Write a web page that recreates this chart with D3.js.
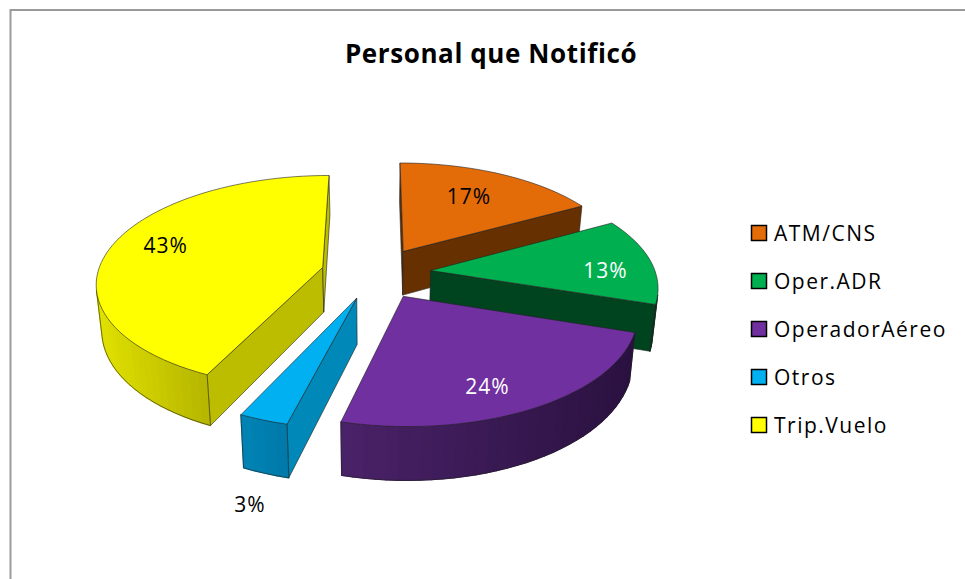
<!DOCTYPE html>
<html><head><meta charset="utf-8">
<script src="https://cdn.jsdelivr.net/npm/d3@7"></script>
<style>html,body{margin:0;padding:0;background:#fff}svg{display:block}text{font-family:"Open Sans",sans-serif}</style>
</head><body><svg id="c" width="965" height="579"></svg>
<script>
const categories = ["ATM/CNS","Oper.ADR","OperadorAéreo","Otros","Trip.Vuelo"];
const values = [17,13,24,3,43];
const tickLabels = ["17%","13%","24%","3%","43%"];
const title = "Personal que Notificó";
const topColors = ["#e36c09","#00b050","#7030a0","#00b0f0","#ffff00"];
const wallLight = ["#693306","#00451f","#4a2268","#0084b5","#e2e200"];
const wallDark  = ["#5f2e05","#003e1c","#2a1140","#0078a8","#b4b400"];
const radialWall= ["#663000","#00431f","#2a1140","#0088b8","#bdbd00"];
const labelColors = ["#000","#fff","#fff","#000","#000"];
const labelRadius = [0.675,0.78,0.79,1.50,0.76];
const labelShiftDeg = [-1,5.4,5.3,-6.3,3.7];

const cfg = {cx:376, cy:273, R:225, explode:55, k:0.0006, tilt:0.47, h:45, shrink:0.02};
const svg = d3.select("#c");
svg.append("path").attr("d","M10.5,579V10H965").attr("fill","none").attr("stroke","#9a9a9a").attr("stroke-width",2);
svg.append("text").attr("x",491).attr("y",63).attr("text-anchor","middle").attr("font-size",26).attr("font-weight",700).attr("letter-spacing","0.6px").attr("fill","#000").text(title);

function project(X,Y,Z){
  const s = 1/(1 - cfg.k*Y);
  return [cfg.cx + X*s*(1 - cfg.shrink*Z), cfg.cy + (cfg.tilt*Y + cfg.h*Z)*s];
}
const pie = d3.pie().sort(null).value(d=>d);
const arcs = pie(values);
const line = d3.line();

function ground(d,a,r){
  const mid=(d.startAngle+d.endAngle)/2;
  return [cfg.explode*Math.sin(mid)+r*Math.sin(a), -cfg.explode*Math.cos(mid)-r*Math.cos(a)];
}
const order=[0,4,1,3,2];
order.forEach(i=>{
  const d=arcs[i], g=svg.append("g");
  const n=Math.max(4,Math.round((d.endAngle-d.startAngle)/(2.5*Math.PI/180)));
  const angles=d3.range(n+1).map(j=>d.startAngle+(d.endAngle-d.startAngle)*j/n);
  const apex=ground(d,0,0);
  const rim=angles.map(a=>ground(d,a,cfg.R));
  const perim=[apex,...rim];
  const facets=[];
  perim.forEach((A,j)=>{
    const B=perim[(j+1)%perim.length];
    const q=[project(A[0],A[1],0),project(B[0],B[1],0),project(B[0],B[1],1),project(A[0],A[1],1)];
    const radial=(j===0||j===perim.length-1);
    if(d3.polygonArea(q)>0) facets.push({q,radial});
  });
  const rimF=facets.filter(f=>!f.radial);
  const xs=rimF.flatMap(f=>f.q.map(p=>p[0]));
  const col=d3.scaleLinear().domain(xs.length?d3.extent(xs):[0,1]).range([wallLight[i],wallDark[i]]).interpolate(d3.interpolateRgb);
  facets.forEach(f=>{
    const c=f.radial?radialWall[i]:col(d3.mean(f.q,p=>p[0]));
    g.append("path").attr("d",line(f.q)+"Z").attr("fill",c).attr("stroke",f.radial?"#222":c)
      .attr("stroke-width",f.radial?0.6:1.2).attr("stroke-linejoin","round");
  });
  if(rimF.length){
    const bottom=[...rimF.map(f=>f.q[3]),rimF[rimF.length-1].q[2]];
    g.append("path").attr("d",line(bottom)).attr("fill","none").attr("stroke","#222").attr("stroke-width",0.6);
    [rimF[0].q,rimF[rimF.length-1].q].forEach((q,idx)=>{
      const e=idx===0?[q[0],q[3]]:[q[1],q[2]];
      g.append("path").attr("d",line(e)).attr("stroke","#222").attr("stroke-width",0.6);
    });
  }
  g.append("path").attr("d",line(perim.map(p=>project(p[0],p[1],0)))+"Z")
    .attr("fill",topColors[i]).attr("stroke","#222").attr("stroke-width",0.6).attr("stroke-linejoin","round");
});
arcs.forEach((d,i)=>{
  const mid=(d.startAngle+d.endAngle)/2+labelShiftDeg[i]*Math.PI/180;
  const p=ground(d,mid,cfg.R*labelRadius[i]);
  const q=project(p[0],p[1],0);
  svg.append("text").attr("x",q[0]).attr("y",q[1]).attr("dy","0.36em").attr("text-anchor","middle")
    .attr("font-size",21).attr("letter-spacing","1px").attr("fill",labelColors[i]).text(tickLabels[i]);
});
const ly=d3.scalePoint().domain(categories).range([233,425]);
const leg=svg.selectAll("g.l").data(categories).join("g").attr("class","l").attr("transform",c=>`translate(0,${ly(c)})`);
leg.append("rect").attr("x",751.5).attr("y",-7.5).attr("width",15).attr("height",15).attr("fill",(c,i)=>topColors[i]).attr("stroke","#000").attr("stroke-width",1.5);
leg.append("text").attr("x",774).attr("y",0).attr("dy","0.36em").attr("font-size",21).attr("letter-spacing","1.5px").attr("fill","#000").text(c=>c);
</script></body></html>
